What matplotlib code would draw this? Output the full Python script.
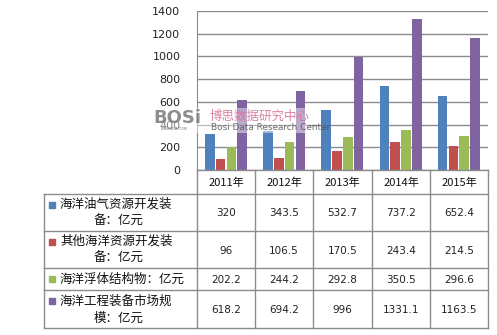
import matplotlib
matplotlib.use("Agg")
import matplotlib.pyplot as plt
from matplotlib.patches import Rectangle

years = ['2011年', '2012年', '2013年', '2014年', '2015年']
oil = [320, 343.5, 532.7, 737.2, 652.4]
other = [96, 106.5, 170.5, 243.4, 214.5]
floating = [202.2, 244.2, 292.8, 350.5, 296.6]
market = [618.2, 694.2, 996, 1331.1, 1163.5]
series_names = [['海洋油气资源开发装', '备：亿元'],
                ['其他海洋资源开发装', '备：亿元'],
                ['海洋浮体结构物：亿元'],
                ['海洋工程装备市场规', '模：亿元']]
yticks = [0, 200, 400, 600, 800, 1000, 1200, 1400]
colors = ['#4F81BD', '#C0504D', '#9BBB59', '#8064A2']
series = [oil, other, floating, market]

CJK = ['Noto Sans CJK SC', 'DejaVu Sans']
W, H = 497, 335
fig = plt.figure(figsize=(W / 100, H / 100), dpi=100)
fig.patch.set_facecolor('white')

# plot area in pixels
px0, px1, py0, py1 = 197, 488, 11, 170
ax = fig.add_axes([px0 / W, 1 - py1 / H, (px1 - px0) / W, (py1 - py0) / H])
n = len(years)
offsets = [-0.28, -0.095, 0.09, 0.275]
bw = 0.165
for s, c, off in zip(series, colors, offsets):
    ax.bar([i + off for i in range(n)], s, width=bw, color=c, zorder=3)
ax.set_xlim(-0.5, n - 0.5)
ax.set_ylim(0, 1400)
ax.set_yticks(yticks)
ax.set_yticklabels([str(v) for v in yticks], fontsize=8, color='#222222')
ax.tick_params(axis='y', length=0, pad=12)
ax.set_xticks([])
ax.grid(axis='y', color='#8c8c8c', linewidth=1, zorder=0)
for sp in ['top', 'right', 'bottom']:
    ax.spines[sp].set_visible(False)
ax.spines['left'].set_color('#8c8c8c')

# table axes in pixel coords
tx0, tx1, ty0, ty1 = 44, 488, 170, 328
tab = fig.add_axes([0, 0, 1, 1], facecolor='none')
tab.set_xlim(0, W)
tab.set_ylim(H, 0)
tab.axis('off')
lc = '#8c8c8c'
colx = [197, 255, 313, 372, 430, 488]
rowy = [170, 194, 231, 268, 290, 328]
# horizontal lines
tab.plot([colx[0], colx[-1]], [rowy[0], rowy[0]], color=lc, lw=1)
for y in rowy[1:]:
    tab.plot([tx0, colx[-1]], [y, y], color=lc, lw=1)
# vertical lines
for x in colx:
    tab.plot([x, x], [rowy[0], rowy[-1]], color=lc, lw=1)
tab.plot([tx0, tx0], [rowy[1], rowy[-1]], color=lc, lw=1)

for j, yl in enumerate(years):
    tab.text((colx[j] + colx[j + 1]) / 2, (rowy[0] + rowy[1]) / 2 + 1, yl,
             ha='center', va='center', fontsize=8, family=CJK, color='#111111')

for r, (s, c, name) in enumerate(zip(series, colors, series_names)):
    ya, yb = rowy[r + 1], rowy[r + 2]
    ym = (ya + yb) / 2
    if len(name) == 2:
        y1, y2 = ym - 8, ym + 9
    else:
        y1 = ym
    tab.add_patch(Rectangle((49, y1 - 3), 6, 6, color=c))
    tab.text(60, y1, name[0], ha='left', va='center', fontsize=9,
             family=CJK, color='#111111')
    if len(name) == 2:
        tab.text(119, y2, name[1], ha='center', va='center', fontsize=9,
                 family=CJK, color='#111111')
    for j, v in enumerate(s):
        txt = ('%g' % v)
        tab.text((colx[j] + colx[j + 1]) / 2, ym + 1, txt, ha='center',
                 va='center', fontsize=7.5, color='#222222')

# watermark
tab.add_patch(Rectangle((150, 108), 158, 25, color='white', alpha=0.45, lw=0))
tab.text(153, 118, 'BOSi', fontsize=13, fontweight='bold', color='#7a7a7a',
         alpha=0.85, ha='left', va='center')
tab.text(161, 129.5, 'BOSIDATA.COM', fontsize=2.5, color='#7a7a7a', ha='left',
         va='center')
tab.text(209, 116, '博思数据研究中心', fontsize=9, family=CJK, color='#d9739a',
         ha='left', va='center', alpha=0.9)
tab.text(211, 128, 'Bosi Data Research Center', fontsize=6.4, color='#555555',
         ha='left', va='center', alpha=0.85, family='Liberation Sans Narrow')

fig.savefig('out.png', dpi=100)
